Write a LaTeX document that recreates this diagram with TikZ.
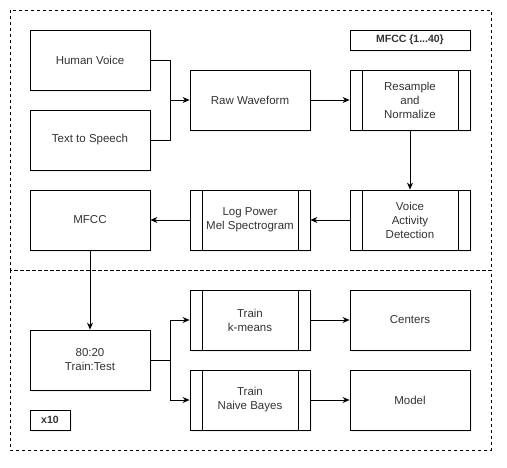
\documentclass[tikz,border=0pt]{standalone}
\usepackage{fontspec}
\setmainfont{Liberation Sans}
\usetikzlibrary{arrows.meta,shadows}
\begin{document}
\begin{tikzpicture}[
x=1pt, y=-1pt,
every node/.style={font=\fontsize{11.5}{14}\selectfont, text=black!80, align=center},
box/.style={draw, fill=white, thick, minimum width=120pt, minimum height=60pt,
    drop shadow={opacity=0.12, shadow xshift=2pt, shadow yshift=-2pt}},
proc/.style={box, path picture={
    \draw[thick] ([xshift=12pt]path picture bounding box.north west) -- ([xshift=12pt]path picture bounding box.south west);
    \draw[thick] ([xshift=-12pt]path picture bounding box.north east) -- ([xshift=-12pt]path picture bounding box.south east);
}},
tag/.style={box, minimum width=40pt, minimum height=20pt, font=\bfseries\fontsize{10.5}{12}\selectfont},
arr/.style={thick, -{Stealth[length=7pt,width=6pt]}},
frame/.style={dashed, thin}
]
\useasboundingbox (0,0) rectangle (507,467);
% frames
\draw[frame] (10,10) rectangle (491,270);
\draw[frame] (10,270) rectangle (491,450);
% top part
\node[box] (hv) at (90,60) {Human Voice};
\node[box] (tts) at (90,140) {Text to Speech};
\node[box] (raw) at (250,100) {Raw Waveform};
\node[proc] (res) at (410,100) {Resample\\and\\Normalize};
\node[tag, minimum width=120pt] (mfl) at (410,40) {MFCC \{1...40\}};
\node[proc] (vad) at (410,220) {Voice\\Activity\\Detection};
\node[proc] (log) at (250,220) {Log Power\\Mel Spectrogram};
\node[box] (mfcc) at (90,220) {MFCC};
% bottom part
\node[box] (split) at (90,360) {80:20\\Train:Test};
\node[proc] (km) at (250,320) {Train\\k-means};
\node[proc] (nb) at (250,400) {Train\\Naive Bayes};
\node[box] (cen) at (410,320) {Centers};
\node[box] (mod) at (410,400) {Model};
\node[tag] (x10) at (50,420) {x10};
% connectors
\draw[arr] (hv.east) -| (170,100) -- (raw.west);
\draw[thick] (tts.east) -| (170,100);
\draw[arr] (raw) -- (res);
\draw[arr] (res) -- (vad);
\draw[arr] (vad) -- (log);
\draw[arr] (log) -- (mfcc);
\draw[arr] (mfcc) -- (split);
\draw[arr] (split.east) -| (170,320) -- (km.west);
\draw[arr] (split.east) -| (170,400) -- (nb.west);
\draw[arr] (km) -- (cen);
\draw[arr] (nb) -- (mod);
\end{tikzpicture}
\end{document}
